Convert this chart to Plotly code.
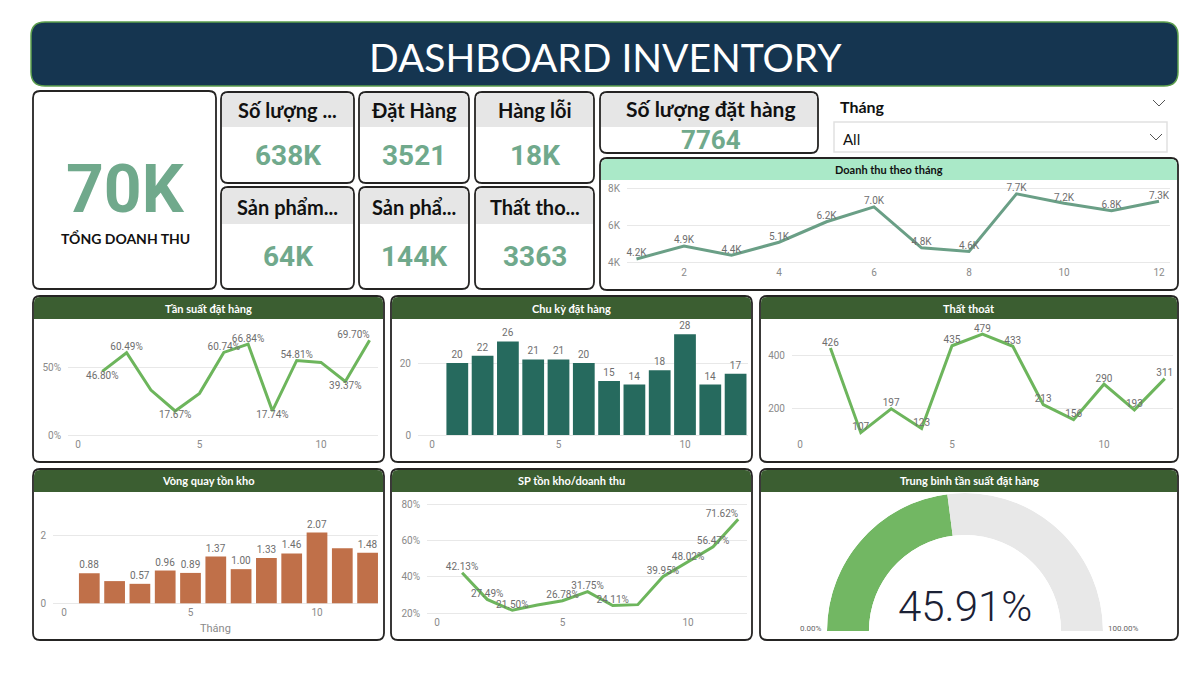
import plotly.graph_objects as go

W, H = 1200, 694

# ---- du lieu ----
thang = list(range(1, 13))
doanh_thu = [4200, 4900, 4400, 5100, 6200, 7000, 4800, 4600, 7700, 7200, 6800, 7300]
tan_suat = [46.80, 60.49, 33.0, 17.67, 30.6, 60.74, 66.84, 17.74, 54.81, 53.4, 39.37, 69.70]
tan_suat_nhan = [1, 1, 0, 1, 0, 1, 1, 1, 1, 0, 1, 1]
chu_ky = [20, 22, 26, 21, 21, 20, 15, 14, 18, 28, 14, 17]
that_thoat = [426, 107, 197, 123, 435, 479, 433, 213, 156, 290, 193, 311]
vong_quay = [0.88, 0.65, 0.57, 0.96, 0.89, 1.37, 1.00, 1.33, 1.46, 2.07, 1.61, 1.48]
vong_quay_nhan = [1, 0, 1, 1, 1, 1, 1, 1, 1, 1, 0, 1]
sp_ton_kho = [42.13, 27.49, 21.50, 24.4, 26.78, 31.75, 24.11, 24.6, 39.95, 48.02, 56.47, 71.62]
sp_ton_kho_nhan = [1, 1, 1, 0, 1, 1, 1, 0, 1, 1, 1, 1]
tb_tan_suat = 45.91

tong_doanh_thu = "70K"
kpi_tieu_de = ["Số lượng ...", "Đặt Hàng", "Hàng lỗi", "Sản phẩm...", "Sản phẩ...", "Thất tho..."]
kpi_gia_tri = ["638K", "3521", "18K", "64K", "144K", "3363"]
so_luong_dat_hang = "7764"

XANH = "#70A98C"
XANH_DAM = "#3B5E31"
LINE_G = "#6DB55C"
TICK = dict(family="Roboto", size=10, color="#8A8A8A")
LBL = dict(family="Roboto", size=10, color="#6E6E6E")


def X(p):
    return p / W


def Y(p):
    return 1 - p / H


def rng(a, b, v1, p1, v2, p2):
    s = (v2 - v1) / (p2 - p1)
    return [v1 + (a - p1) * s, v1 + (b - p1) * s]


def rrect(x0, y0, x1, y1, r, top_only=False):
    rx, ry = r, r
    if top_only:
        return (f"M {X(x0)},{Y(y1)} L {X(x0)},{Y(y0+ry)} Q {X(x0)},{Y(y0)} {X(x0+rx)},{Y(y0)} "
                f"L {X(x1-rx)},{Y(y0)} Q {X(x1)},{Y(y0)} {X(x1)},{Y(y0+ry)} L {X(x1)},{Y(y1)} Z")
    return (f"M {X(x0+rx)},{Y(y0)} L {X(x1-rx)},{Y(y0)} Q {X(x1)},{Y(y0)} {X(x1)},{Y(y0+ry)} "
            f"L {X(x1)},{Y(y1-ry)} Q {X(x1)},{Y(y1)} {X(x1-rx)},{Y(y1)} "
            f"L {X(x0+rx)},{Y(y1)} Q {X(x0)},{Y(y1)} {X(x0)},{Y(y1-ry)} "
            f"L {X(x0)},{Y(y0+ry)} Q {X(x0)},{Y(y0)} {X(x0+rx)},{Y(y0)} Z")


shapes = []
anns = []


def box(x0, y0, x1, y1, r=7, fill="white", line="#252423", lw=1.8):
    shapes.append(dict(type="path", path=rrect(x0, y0, x1, y1, r), xref="paper", yref="paper",
                       fillcolor=fill, line=dict(color=line, width=lw), layer="below"))


def head(x0, y0, x1, y1, fill, r=7):
    shapes.append(dict(type="path", path=rrect(x0, y0, x1, y1, r, top_only=True), xref="paper",
                       yref="paper", fillcolor=fill, line=dict(width=0), layer="below"))


def txt(x, y, s, size, color="#000", family="Lato", weight=400, xanchor="center"):
    anns.append(dict(x=X(x), y=Y(y), xref="paper", yref="paper", text=s, showarrow=False,
                     xanchor=xanchor, yanchor="middle",
                     font=dict(family=family, size=size, color=color, weight=weight)))


# ---- banner ----
box(31, 22, 1178, 86, r=14, fill="#153550", line="#5C9E4C", lw=1.5)
txt(605, 57, "DASHBOARD INVENTORY", 39, "white", "Lato")

# ---- tong doanh thu ----
box(33, 91, 216, 289)
txt(125, 189, tong_doanh_thu, 66, XANH, "Roboto", 700)
txt(125, 238, "TỔNG DOANH THU", 14, "#111", "Lato", 700)

# ---- kpi cards ----
cols = [(221, 354), (359, 469), (475, 594)]
rows = [(92, 183, 127, 110, 156), (187, 289, 224, 207, 256)]
k = 0
for (y0, y1, yh, yt, yv) in rows:
    for (x0, x1) in cols:
        box(x0, y0, x1, y1)
        head(x0 + 1, y0 + 1, x1 - 1, yh, "#E6E6E6", r=6)
        txt((x0 + x1) / 2, yt, kpi_tieu_de[k], 20, "#111", "Lato", 700)
        txt((x0 + x1) / 2, yv, kpi_gia_tri[k], 28, XANH, "Roboto", 700)
        k += 1

box(600, 92, 818, 153)
head(601, 93, 817, 127, "#E6E6E6", r=6)
txt(710, 109, "Số lượng đặt hàng", 21, "#111", "Lato", 700)
txt(711, 140, so_luong_dat_hang, 26, XANH, "Roboto", 700)

# ---- slicer ----
txt(838, 106, "Tháng", 16, "#111", "Lato", 700, xanchor="left")
shapes.append(dict(type="rect", xref="paper", yref="paper", x0=X(834), x1=X(1167), y0=Y(152), y1=Y(122),
                   line=dict(color="#E1E1E1", width=1.5), fillcolor="white", layer="below"))
txt(841, 139, "All", 15, "#111", "Lato", 400, xanchor="left")
for cx, cy in [(1159, 103), (1156, 137)]:
    shapes.append(dict(type="path", xref="paper", yref="paper",
                       path=f"M {X(cx-6)},{Y(cy-3)} L {X(cx)},{Y(cy+3)} L {X(cx+6)},{Y(cy-3)}",
                       line=dict(color="#555", width=1)))

# ---- chart cards ----
box(600, 158, 1178, 290)
head(601, 159, 1177, 180, "#AAE9C8", r=6)
txt(889, 170, "Doanh thu theo tháng", 11, "#111", "Lato", 700)

cards = [
    ((33, 296, 384, 462), "Tần suất đặt hàng"),
    ((391, 296, 752, 462), "Chu kỳ đặt hàng"),
    ((760, 296, 1178, 462), "Thất thoát"),
    ((33, 469, 384, 640), "Vòng quay tồn kho"),
    ((391, 469, 752, 640), "SP tồn kho/doanh thu"),
    ((760, 469, 1178, 640), "Trung bình tần suất đặt hàng"),
]
for (x0, y0, x1, y1), t in cards:
    box(x0, y0, x1, y1)
    head(x0 + 1, y0 + 1, x1 - 1, y0 + 23, XANH_DAM, r=6)
    txt((x0 + x1) / 2, y0 + 12, t, 11, "white", "Lato", 700)

layout_axes = {}


def axes(n, xd, yd, xcal, ycal, xtv, ytv, ytext):
    xa = dict(domain=[X(xd[0]), X(xd[1])], range=rng(xd[0], xd[1], *xcal), anchor="y" if n == 1 else f"y{n}",
              showgrid=False, zeroline=False, showline=False, ticks="", tickvals=xtv, tickfont=TICK)
    ya = dict(domain=[Y(yd[1]), Y(yd[0])], range=rng(yd[1], yd[0], *ycal), anchor="x" if n == 1 else f"x{n}",
              showgrid=True, gridcolor="#E8E8E8", gridwidth=1, zeroline=False, showline=False, ticks="",
              tickvals=ytv, ticktext=ytext, tickfont=TICK, ticklabelstandoff=6)
    layout_axes["xaxis" if n == 1 else f"xaxis{n}"] = xa
    layout_axes["yaxis" if n == 1 else f"yaxis{n}"] = ya


def pct(vals):
    return [f"{v}%" for v in vals]


fig = go.Figure()

# 1 doanh thu theo thang
ytv1 = [4000, 6000, 8000]
axes(1, (627, 1170), (186, 265), (2, 684, 12, 1159), (4000, 262.7, 8000, 188.3),
     [2, 4, 6, 8, 10, 12], ytv1, [f"{v // 1000}K" for v in ytv1])
fig.add_trace(go.Scatter(x=thang, y=doanh_thu, mode="lines+text", line=dict(color="#6A9F86", width=3),
                         text=[f"{v / 1000:.1f}K" for v in doanh_thu], textposition="top center",
                         textfont=LBL, cliponaxis=False, xaxis="x", yaxis="y"))

# 2 tan suat dat hang
ytv2 = [0, 50]
axes(2, (68, 378), (322, 437), (0, 78, 10, 321), (0, 435, 50, 367), [0, 5, 10], ytv2, pct(ytv2))
pos2 = ["bottom center", "top center", "top center", "bottom center", "top center", "top center",
        "top center", "bottom center", "top center", "top center", "bottom center", "top left"]
fig.add_trace(go.Scatter(x=thang, y=tan_suat, mode="lines+text", line=dict(color=LINE_G, width=3),
                         text=[f"{v:.2f}%" if s else "" for v, s in zip(tan_suat, tan_suat_nhan)],
                         textposition=pos2, textfont=LBL, cliponaxis=False, xaxis="x2", yaxis="y2"))

# 3 chu ky dat hang
ytv3 = [0, 20]
axes(3, (418, 748), (322, 437), (0, 432, 10, 685), (0, 435, 20, 363), [0, 5, 10], ytv3, [str(v) for v in ytv3])
fig.add_trace(go.Bar(x=thang, y=chu_ky, width=0.86, marker=dict(color="#266A5E", line=dict(width=0)),
                     text=[str(v) for v in chu_ky], textposition="outside", textfont=LBL,
                     cliponaxis=False, xaxis="x3", yaxis="y3"))

# 4 that thoat
ytv4 = [200, 400]
axes(4, (792, 1173), (322, 437), (0, 800, 10, 1104), (200, 408, 400, 355), [0, 5, 10], ytv4,
     [str(v) for v in ytv4])
fig.add_trace(go.Scatter(x=thang, y=that_thoat, mode="lines+text", line=dict(color=LINE_G, width=3),
                         text=[str(v) for v in that_thoat], textposition="top center", textfont=LBL,
                         cliponaxis=False, xaxis="x4", yaxis="y4"))

# 5 vong quay ton kho
ytv5 = [0, 2]
axes(5, (53, 378), (497, 605), (0, 64, 10, 317), (0, 603.3, 2, 535), [0, 5, 10], ytv5, [str(v) for v in ytv5])
fig.add_trace(go.Bar(x=thang, y=vong_quay, width=0.82, marker=dict(color="#C07049", line=dict(width=0)),
                     text=[f"{v:.2f}" if s else "" for v, s in zip(vong_quay, vong_quay_nhan)],
                     textposition="outside", textfont=LBL, cliponaxis=False, xaxis="x5", yaxis="y5"))
txt(215, 628, "Tháng", 11, "#8A8A8A", "Roboto")

# 6 sp ton kho / doanh thu
ytv6 = [20, 40, 60, 80]
axes(6, (427, 747), (500, 615), (0, 437, 10, 688), (20, 613, 80, 504), [0, 5, 10], ytv6, pct(ytv6))
pos6 = ["top center"] * 11 + ["top left"]
fig.add_trace(go.Scatter(x=thang, y=sp_ton_kho, mode="lines+text", line=dict(color=LINE_G, width=3),
                         text=[f"{v:.2f}%" if s else "" for v, s in zip(sp_ton_kho, sp_ton_kho_nhan)],
                         textposition=pos6, textfont=LBL, cliponaxis=False, xaxis="x6", yaxis="y6"))

# gauge
fig.add_trace(go.Barpolar(r=[1], theta=[tb_tan_suat * 1.8 / 2], width=[tb_tan_suat * 1.8],
                          marker=dict(color="#72B763", line=dict(width=0)), subplot="polar"))
fig.add_trace(go.Barpolar(r=[1], theta=[tb_tan_suat * 1.8 + (100 - tb_tan_suat) * 1.8 / 2],
                          width=[(100 - tb_tan_suat) * 1.8],
                          marker=dict(color="#E8E8E8", line=dict(width=0)), subplot="polar"))
txt(965, 606, f"{tb_tan_suat:.2f}%", 42, "#1B2135", "Roboto", 300)
txt(811, 628, "0.00%", 8, "#666", "Roboto")
txt(1123, 628, "100.00%", 8, "#666", "Roboto")

fig.update_layout(
    width=W, height=H, margin=dict(l=0, r=0, t=0, b=0), template="none",
    paper_bgcolor="white", plot_bgcolor="rgba(0,0,0,0)", showlegend=False, hovermode=False,
    shapes=shapes, annotations=anns,
    polar=dict(domain=dict(x=[X(827), X(1103)], y=[Y(631), Y(493)]), sector=[0, 180], hole=0.696,
               bgcolor="rgba(0,0,0,0)",
               radialaxis=dict(visible=False, range=[0, 1]),
               angularaxis=dict(visible=False, rotation=180, direction="clockwise")),
    **layout_axes,
)

fig.write_html("out.html", config={"displayModeBar": False},
               post_script="document.body.style.margin='0';")
